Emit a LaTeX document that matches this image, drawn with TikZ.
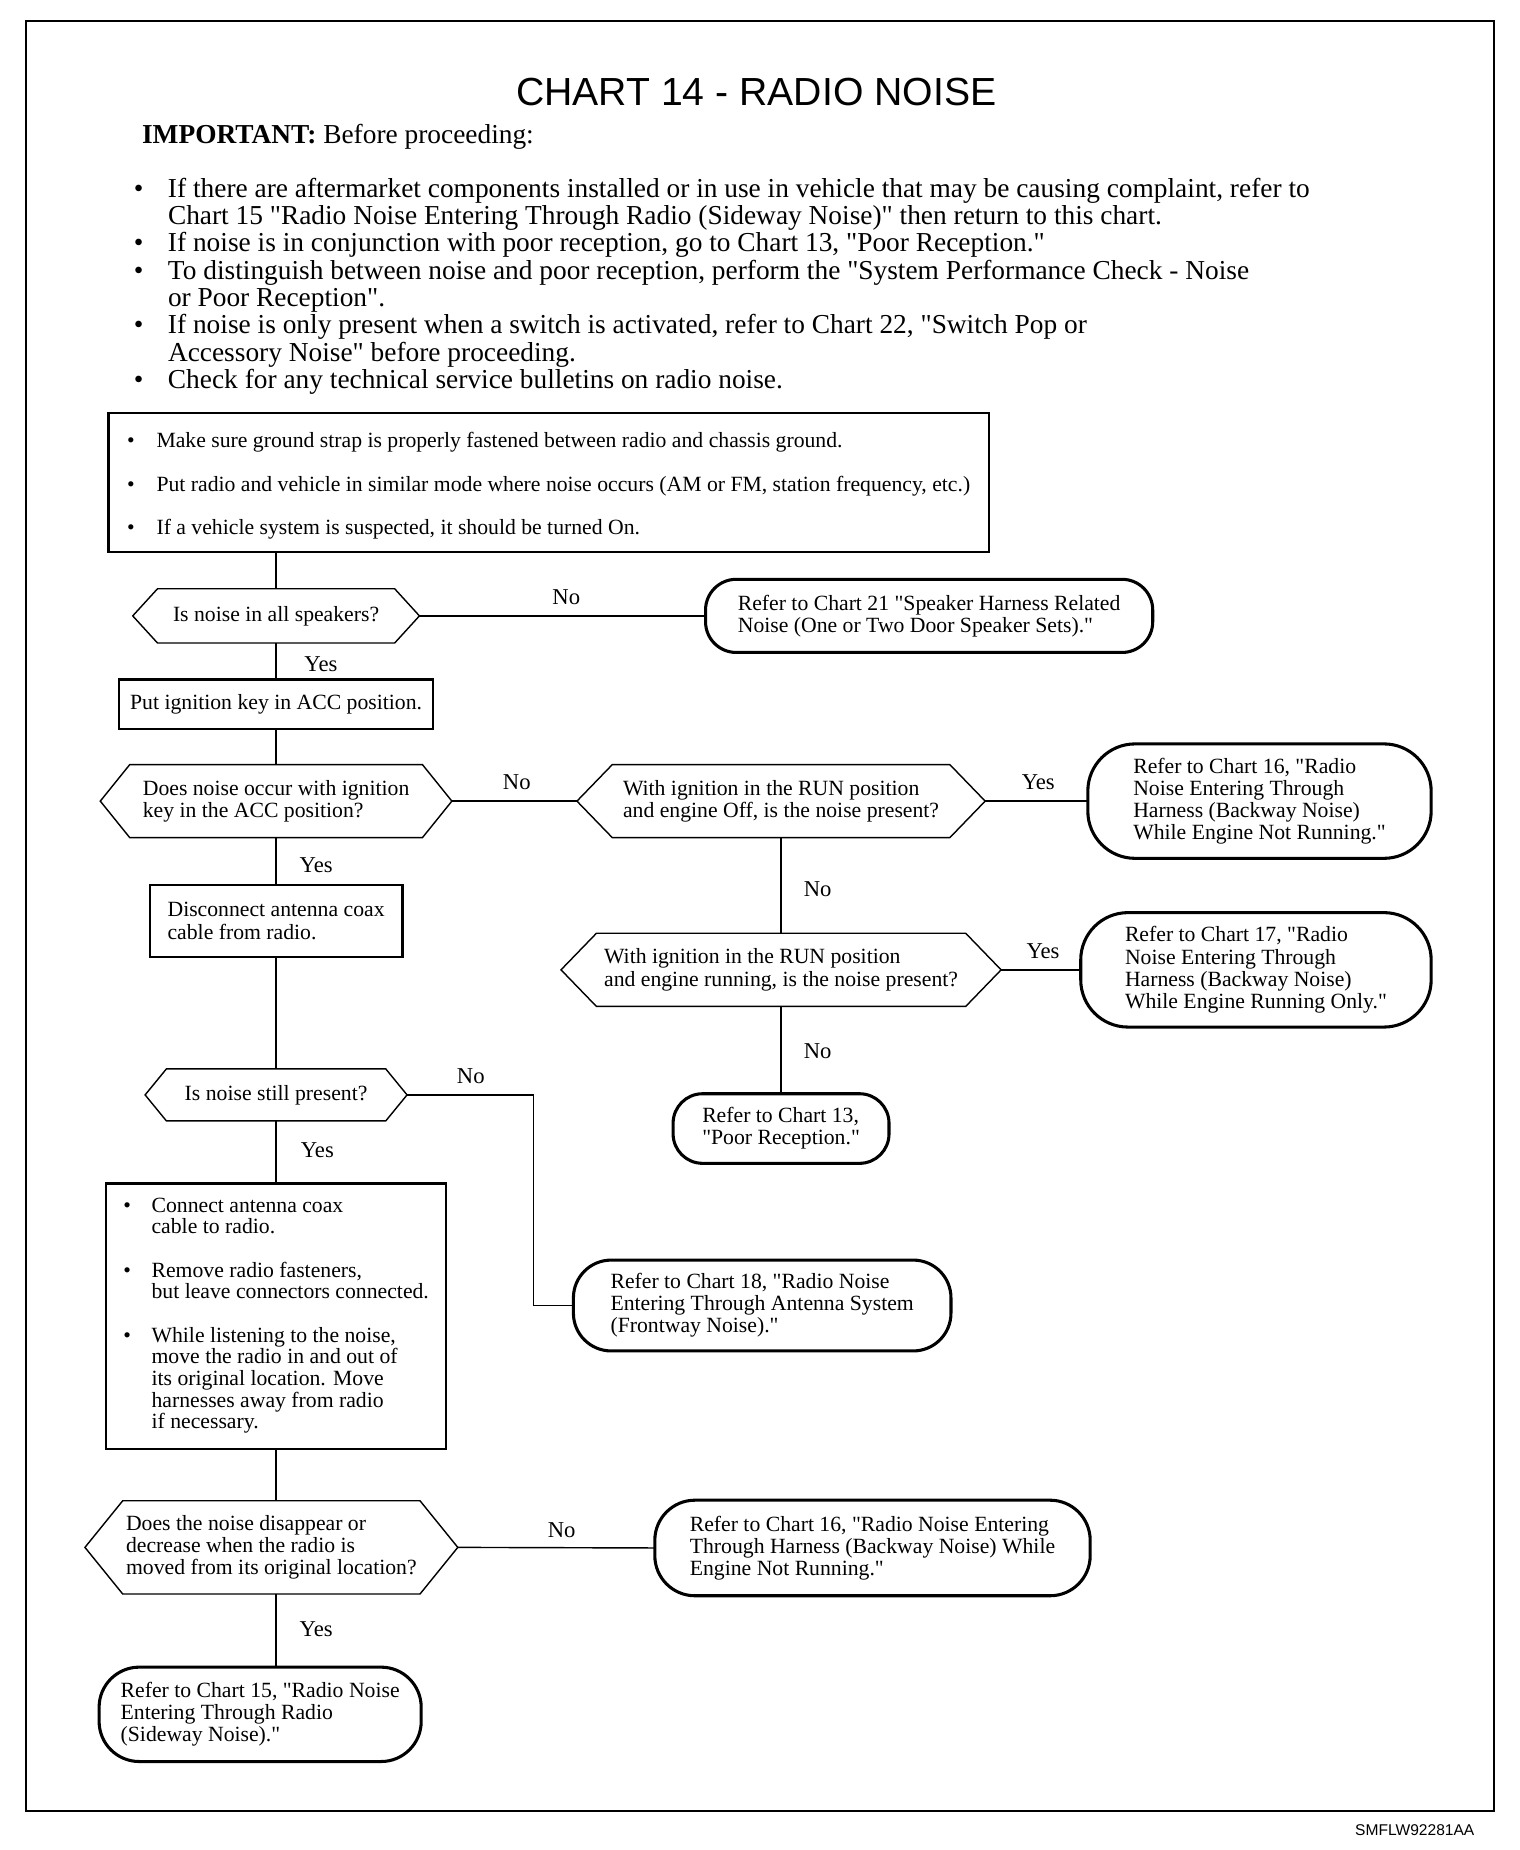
\documentclass[tikz,border=0pt]{standalone}
\usepackage{fontspec}
\setmainfont{Liberation Serif}
\newfontfamily\helv{Liberation Sans}
\usetikzlibrary{calc}
\newcommand\chartfont{\fontsize{9.2}{9.4}\selectfont}
\newcommand\bulfont{\fontsize{11.6}{11.55}\selectfont}
\newcommand\bx[1]{\makebox[#1][l]{\textbullet}}
\newcommand\q{\XeTeXglyph\XeTeXcharglyph"22\relax}
\newcommand\hexa[2]{\draw[decln] (#1.west) -- ($(#1.north west)+(#2,0)$) -- ($(#1.north east)+(-#2,0)$) -- (#1.east) -- ($(#1.south east)+(-#2,0)$) -- ($(#1.south west)+(#2,0)$) -- cycle;}
\begin{document}
\begin{tikzpicture}[x=0.5pt,y=-0.5pt,
  conn/.style={line width=0.6pt},
  decln/.style={line width=0.6pt, line join=miter},
  sz/.style 2 args={minimum width=#1*0.5pt, minimum height=#2*0.5pt},
  boxn/.style={draw, line width=1pt, inner sep=0pt, outer sep=0pt, align=left, font=\chartfont},
  term/.style={draw, line width=1.3pt, rounded corners=#1, inner sep=0pt, outer sep=0pt, align=left, font=\chartfont},
  decn/.style={inner sep=0pt, outer sep=0pt, align=left, font=\chartfont},
  lbl/.style={font=\fontsize{9.6}{10}\selectfont, inner sep=0pt}
]
\useasboundingbox (0,0) rectangle (1288,1568);
\fill[white] (0,0) rectangle (1288,1568);
\draw[line width=0.9pt] (22,18) rectangle (1266,1535);

\node[font=\helv\fontsize{16.6}{18}\selectfont] (title) at (641,78) {CHART 14 - RADIO NOISE};
\node[anchor=base west, inner sep=0pt, font=\bulfont] (imp) at (120,122) {\textbf{IMPORTANT:} Before proceeding:};
\node[anchor=base west, inner sep=0pt, font=\bulfont] (pre) at (113,167) {\begin{tabular}[t]{@{}l@{}l@{}}
\bx{14.5pt} & If there are aftermarket components installed or in use in vehicle that may be causing complaint, refer to\\
 & Chart 15 \q Radio Noise Entering Through Radio (Sideway Noise)\q{} then return to this chart.\\
\bx{14.5pt} & If noise is in conjunction with poor reception, go to Chart 13, \q Poor Reception.\q\\
\bx{14.5pt} & To distinguish between noise and poor reception, perform the \q System Performance Check - Noise\\
 & or Poor Reception\q.\\
\bx{14.5pt} & If noise is only present when a switch is activated, refer to Chart 22, \q Switch Pop or\\
 & Accessory Noise\q{} before proceeding.\\
\bx{14.5pt} & Check for any technical service bulletins on radio noise.
\end{tabular}};

\node[boxn, sz={746}{118}] (b1) at (465,409) {\begin{tabular}{@{}l@{}l@{}}
\rule{0pt}{10.1pt}\bx{12.5pt} & Make sure ground strap is properly fastened between radio and chassis ground.\\[8.9pt]
\bx{12.5pt} & Put radio and vehicle in similar mode where noise occurs (AM or FM, station frequency, etc.)\\[8.9pt]
\bx{12.5pt} & If a vehicle system is suspected, it should be turned On.
\end{tabular}};

\node[decn, sz={243}{46}] (d1) at (234,522) {Is noise in all speakers?};
\hexa{d1}{21}
\node[term=13pt, sz={379}{62}] (t21) at (787.5,522) {Refer to Chart 21 \q Speaker Harness Related\\Noise (One or Two Door Speaker Sets).\q};
\node[boxn, sz={266}{42}] (acc) at (234,597) {Put ignition key in ACC position.};
\node[decn, sz={298}{62}] (d2) at (234,679) {Does noise occur with ignition\\key in the ACC position?};
\hexa{d2}{25}
\node[decn, sz={346}{62}] (d3) at (662,679) {With ignition in the RUN position\\and engine Off, is the noise present?};
\hexa{d3}{30}
\node[term=20pt, sz={291}{97}] (t16a) at (1067.5,679) {Refer to Chart 16, \q Radio\\Noise Entering Through\\Harness (Backway Noise)\\While Engine Not Running.\q};
\node[decn, sz={373}{62}] (d4) at (662,822) {With ignition in the RUN position\\and engine running, is the noise present?};
\hexa{d4}{30}
\node[term=20pt, sz={297}{97}] (t17) at (1064.5,822) {Refer to Chart 17, \q Radio\\Noise Entering Through\\Harness (Backway Noise)\\While Engine Running Only.\q};
\node[term=12.5pt, sz={183}{59}] (t13) at (662,956.5) {Refer to Chart 13,\\\q Poor Reception.\q};
\node[boxn, sz={214}{61}] (disc) at (234,780.5) {Disconnect antenna coax\\cable from radio.};
\node[decn, sz={222}{44}] (d5) at (234,928) {Is noise still present?};
\hexa{d5}{18}
\node[term=16pt, sz={320}{77}] (t18) at (646,1106.5) {Refer to Chart 18, \q Radio Noise\\Entering Through Antenna System\\(Frontway Noise).\q};
\node[boxn, sz={288}{225}] (b3) at (234,1115.5) {\fontsize{9.2}{9.1}\selectfont\begin{tabular}{@{}l@{}l@{}}
\bx{12pt} & Connect antenna coax\\ & cable to radio.\\[9.3pt]
\bx{12pt} & Remove radio fasteners,\\ & but leave connectors connected.\\[9.3pt]
\bx{12pt} & While listening to the noise,\\ & move the radio in and out of\\ & its original location. Move\\ & harnesses away from radio\\ & if necessary.
\end{tabular}};
\node[decn, sz={316}{79}] (d6) at (230,1311.5) {Does the noise disappear or\\decrease when the radio is\\moved from its original location?};
\hexa{d6}{32}
\node[term=17pt, sz={369}{81}] (t16b) at (739.5,1312) {Refer to Chart 16, \q Radio Noise Entering\\Through Harness (Backway Noise) While\\Engine Not Running.\q};
\node[term=17pt, sz={273}{80}] (t15) at (220.5,1453) {Refer to Chart 15, \q Radio Noise\\Entering Through Radio\\(Sideway Noise).\q};

\draw[conn] (b1.south -| d1.north) -- (d1.north);
\draw[conn] (d1.east) -- (t21.west);
\draw[conn] (d1.south) -- (acc.north);
\draw[conn] (acc.south) -- (d2.north);
\draw[conn] (d2.east) -- (d3.west);
\draw[conn] (d3.east) -- (t16a.west);
\draw[conn] (d3.south) -- (d4.north);
\draw[conn] (d4.east) -- (t17.west);
\draw[conn] (d4.south) -- (t13.north);
\draw[conn] (d2.south) -- (disc.north);
\draw[conn] (disc.south) -- (d5.north);
\draw[conn] (d5.east) -- ++(107,0) |- (t18.west);
\draw[conn] (d5.south) -- (b3.north);
\draw[conn] (b3.south) -- (b3.south |- d6.north);
\draw[conn] (d6.east) -- (t16b.west);
\draw[conn] (b3.south |- d6.south) -- (b3.south |- t15.north);

\node[lbl] (l1) at (480,506) {No};
\node[lbl] (l2) at (272,563) {Yes};
\node[lbl] (l3) at (438,663) {No};
\node[lbl] (l4) at (880,663) {Yes};
\node[lbl] (l5) at (693,754) {No};
\node[lbl] (l6) at (268,733) {Yes};
\node[lbl] (l7) at (884,806) {Yes};
\node[lbl] (l8) at (693,891) {No};
\node[lbl] (l9) at (399,912) {No};
\node[lbl] (l10) at (269,975) {Yes};
\node[lbl] (l11) at (476,1297) {No};
\node[lbl] (l12) at (268,1381) {Yes};

\node[anchor=east, font=\helv\fontsize{6.6}{7}\selectfont, inner sep=0pt] (code) at (1250,1551) {SMFLW92281AA};
\end{tikzpicture}
\end{document}
